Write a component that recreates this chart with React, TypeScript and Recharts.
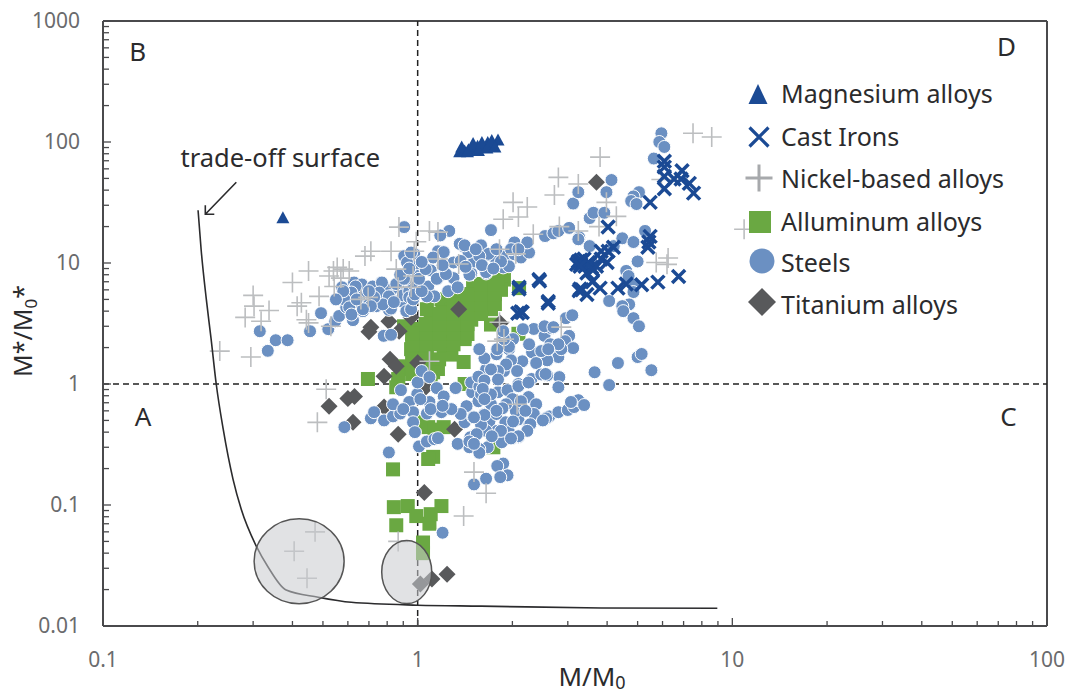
import React from "react";
import {
  ScatterChart,
  Scatter,
  XAxis,
  YAxis,
  ReferenceLine,
  Legend,
} from "recharts";

const FONT = "'Noto Sans', sans-serif";

const xTicks = [
  0.1, 0.2, 0.3, 0.4, 0.5, 0.6, 0.7, 0.8, 0.9, 1, 2, 3, 4, 5, 6, 7, 8, 9, 10, 20, 30, 40, 50, 60, 70, 80, 90, 100,
];
const yTicks = [
  0.01, 0.02, 0.03, 0.04, 0.05, 0.06, 0.07, 0.08, 0.09, 0.1, 0.2, 0.3, 0.4, 0.5, 0.6, 0.7, 0.8, 0.9, 1, 2, 3, 4, 5, 6,
  7, 8, 9, 10, 20, 30, 40, 50, 60, 70, 80, 90, 100, 200, 300, 400, 500, 600, 700, 800, 900, 1000,
];
const decades = [0.01, 0.1, 1, 10, 100, 1000];

type Row = number[];

const magnesium: Row[] = [
  [0.373, 23.9], [1.36, 84], [1.41, 85], [1.45, 87], [1.5, 91], [1.55, 93], [1.6, 95], [1.67, 100], [1.71, 97], [1.8, 105],
  [1.38, 92], [1.44, 84], [1.5, 98], [1.56, 86], [1.6, 100], [1.66, 90], [1.72, 104], [1.76, 92],
];

const castIrons: Row[] = [
  [6.08, 69.4], [6.08, 62], [6.08, 52], [6.08, 41], [6.53, 49.5], [6.92, 57.8], [6.87, 49.5], [7.3, 45.5], [7.53, 37.8],
  [5.48, 31.7], [4.03, 19.8], [5.48, 16.6], [5.43, 14.9], [5.39, 13.5], [3.83, 12.5], [4.03, 12.5], [4.19, 13.5],
  [4, 10.1], [3.83, 10.8], [3.24, 10.3], [3.3, 9.75], [3.49, 10.1], [3.57, 9.2], [3.7, 9.4], [3.45, 8.25], [3.59, 7],
  [3.8, 6.2], [3.28, 6.1], [3.45, 5.5], [3.33, 6], [4.33, 6.2], [4.6, 6.7], [5.15, 6.6], [5.8, 6.95], [6.75, 7.75],
  [2.43, 7.3], [2.1, 6.3], [2.6, 4.65], [2.13, 3.95], [2.15, 3.9], [2.1, 6.1], [3.2, 9.75], [3.38, 10.8], [3.3, 10.6],
  [3.4, 9.4], [3.52, 9.8], [3.28, 9.4], [3.6, 8.8], [3.26, 5.9], [2.08, 3.85], [2.44, 7.1], [2.6, 4.8],
];

const nickel: Row[] = [
  [0.872, 19.8], [1.09, 18.4], [1.16, 18], [0.99, 15], [0.68, 11.4], [0.71, 12.5], [0.823, 12.5], [0.975, 12.5],
  [0.45, 8.6], [0.4, 6.9], [0.54, 8.6], [0.555, 9.2], [0.58, 8.9], [0.606, 8.6], [0.523, 7.8], [0.57, 7.5], [0.543, 6.4],
  [0.486, 5.3], [0.427, 4.7], [0.414, 4.4], [0.3, 5.4], [0.302, 4.4], [0.337, 4.05], [0.318, 3.3], [0.283, 3.55],
  [0.443, 3.4], [0.45, 3.2], [0.295, 1.67], [0.235, 1.87], [0.53, 3], [0.855, 8.9], [0.967, 7.8], [0.867, 6.3],
  [0.953, 6.3], [0.66, 5], [0.696, 5.2], [1.09, 1.54], [1.82, 3.24], [1.79, 2.26], [1.16, 10.8], [1.35, 9.8],
  [2.01, 31.7], [1.87, 23], [2.09, 24], [1.82, 13], [2.05, 11.9], [0.512, 0.905], [0.48, 0.482], [2.07, 0.68],
  [1.51, 0.187], [1.65, 0.125], [1.4, 0.081], [0.472, 0.06], [0.405, 0.0415], [0.445, 0.0248], [0.867, 0.05],
  [7.5, 118], [8.6, 110], [3.8, 75], [2.8, 51], [3.24, 45], [2.72, 36.5], [2.23, 29], [3.98, 31.7], [4.28, 24.3],
  [3.77, 20], [2.82, 20], [3.24, 18.4], [2.33, 17.3], [5.73, 10.1], [6.25, 11], [6.2, 9.75], [2.86, 2.95], [5.95, 49],
  [10.9, 19], [1.88, 2.35],
];

const aluminum: Row[] = [
  [0.695, 1.1], [0.867, 1.1], [0.92, 1.33], [0.975, 1.6], [1.03, 1.94], [1.1, 2.2], [1.21, 2.35], [1.41, 2.35],
  [1.4, 1.52], [1.1, 3.65], [1.16, 3.55], [1.25, 3.4], [1.34, 3], [1.41, 2.5], [1.71, 4.15], [1.59, 5.3], [1.75, 6.4],
  [1.88, 7.3], [1.71, 3.1], [2.09, 2.6], [1.56, 4.75], [1.41, 4.4], [1.25, 2.7], [1.08, 2.5], [1, 2.85], [0.905, 3],
  [0.953, 1.94], [0.885, 1.4], [1.21, 1.83], [1.13, 1.52], [1.16, 1.33], [1.03, 1.16], [0.867, 0.96], [0.855, 0.94],
  [1.1, 1.03], [1.41, 1], [1.19, 5], [1.28, 4.15], [1.48, 5.5], [1.59, 6.7], [1.78, 8], [1.84, 6], [1.48, 3.4],
  [1.28, 2.15], [1.1, 3], [1.03, 2.6], [1.19, 2.85], [1.59, 4.15], [0.953, 1.33], [1.07, 1.76], [1.32, 5], [1.07, 4.15],
  [1.08, 0.44], [1.21, 0.44], [1.03, 0.483], [1.13, 0.42], [1.12, 0.25], [1.08, 0.24], [0.835, 0.197], [0.84, 0.096],
  [0.93, 0.098], [0.99, 0.081], [1.09, 0.07], [1.1, 0.084], [1.19, 0.098], [0.855, 0.068], [1.04, 0.049], [1.04, 0.04],
  [1.74, 0.3], [2.1, 6.2], [1.7, 7.2], [1.65, 5.2], [1.5, 6.2], [1.38, 3.7], [1.55, 3.9], [1.2, 3.9], [1.35, 2.5],
  [1.28, 1.75], [1.17, 1.6], [1.02, 1.38], [0.97, 2.3], [1.12, 1.25], [1.8, 7.4],
  // solid staircase right of the vertical line
  [1.06, 2.13], [1.17, 2.13], [1.3, 2.13], [1.06, 2.59], [1.17, 2.59], [1.3, 2.59], [1.44, 2.59], [1.06, 3.13],
  [1.17, 3.13], [1.3, 3.13], [1.44, 3.13], [1.17, 3.79], [1.3, 3.79], [1.44, 3.79], [1.59, 3.79], [1.3, 4.58],
  [1.44, 4.58], [1.59, 4.58], [1.76, 4.58], [1.44, 5.54], [1.59, 5.54], [1.76, 5.54], [1.59, 6.7], [1.76, 6.7],
  [0.96, 2.13], [0.96, 2.59], [0.96, 1.6], [0.96, 1.21], [1.06, 1.6], [1.06, 1.3],
];

const steels: Row[] = [
  [0.334, 1.88], [0.354, 2.3], [0.386, 2.3], [0.315, 2.73], [0.455, 2.73], [0.493, 3.85], [0.52, 2.84], [0.547, 3.3],
  [0.563, 3.65], [0.623, 3.37], [0.575, 6.3], [0.628, 6.9], [0.665, 6.4], [0.623, 5.75], [0.606, 5], [0.593, 4.3],
  [0.637, 4.15], [0.686, 4.55], [0.652, 5.3], [0.72, 5.7], [0.72, 4.55], [0.754, 5.2], [0.796, 6.1], [0.796, 4.75],
  [0.835, 5.4], [0.765, 6.9], [0.81, 4.1], [0.74, 4.4], [0.885, 4.85], [0.92, 4], [0.953, 4.15], [0.873, 6.1],
  [0.897, 5.4], [0.94, 5.85], [0.967, 6.7], [0.92, 7.4], [0.967, 8.6], [0.933, 10.9], [0.975, 11.9], [0.906, 19.8],
  [1.26, 18.4], [1.18, 16.9], [1.71, 18.7], [2.03, 14.8], [1.41, 13.5], [1.45, 11.9], [1.16, 12.5], [1.21, 12.3],
  [1.59, 13.5], [1.63, 11.8], [1.69, 11.6], [1.91, 11.4], [2.03, 11.8], [0.99, 9.4], [1.1, 8.7], [1.3, 10.1],
  [1.16, 7.5], [1.08, 6.4], [1.3, 7.5], [1.48, 8.2], [1.65, 8.2], [1.87, 9.2], [1.95, 9.4], [1.25, 5.85], [1.34, 6.3],
  [1.13, 5.3], [1.07, 5.3], [0.78, 2.5], [0.823, 2.55], [0.67, 4], [1.36, 14.4], [1.51, 10.3], [1.78, 10.3],
  [2.13, 11.1], [2.26, 12.2], [2.23, 14.8], [1.98, 13], [2.54, 16.7], [2.7, 17.6], [2.8, 18.4], [3.03, 19.5],
  [3.26, 16.3], [3.24, 15.7], [3.12, 31], [3.24, 38.5], [3.98, 38.5], [4.13, 48.5], [3.52, 23.5], [3.62, 26], [3.92, 26],
  [3.52, 13.8], [4.2, 13.8], [4.47, 16], [4.85, 14.9], [5.28, 18.4], [5.05, 38.5], [4.85, 35.5], [4.77, 32.5],
  [4.96, 30.7], [5.95, 118], [5.86, 100], [6.08, 91], [5.63, 73], [5, 10.3], [4.6, 8.6], [4.68, 7.8], [4.9, 6.6],
  [4.85, 5.75], [4.06, 4.85], [4.7, 4.55], [4.47, 4.4], [4.5, 4], [4.85, 3.5], [5.05, 3], [2.96, 3.5], [3.1, 3.7],
  [2.34, 2.85], [2.53, 2.5], [2.66, 2.9], [2.53, 3], [3.03, 2.5], [2.94, 2.26], [2.72, 1.98], [2.64, 2.13], [3.12, 1.98],
  [2.31, 1.83], [1.95, 1.94], [2.8, 1.67], [2.58, 1.57], [2.38, 1.49], [2.15, 1.54], [1.98, 1.57], [2.82, 1.14],
  [2.58, 1.18], [2.07, 1.28], [1.88, 1.28], [2.3, 1.1], [3.65, 1.25], [4.33, 1.49], [5, 1.67], [5.15, 1.77], [5.53, 1.3],
  [4.06, 0.98], [2.8, 0.94], [2.09, 1], [1.15, 0.925], [1.21, 0.79], [0.997, 0.825], [1, 1.03], [1.32, 0.925],
  [1.49, 0.855], [1.56, 0.72], [1.43, 0.656], [1.63, 0.565], [1.41, 0.483], [1.5, 0.53], [1.69, 0.49], [1.8, 0.855],
  [1.93, 0.89], [2.09, 0.96], [1.84, 0.62], [1.9, 0.483], [2.09, 0.51], [2.25, 0.78], [2.38, 0.68], [2.34, 0.565],
  [2.26, 0.456], [1.95, 0.4], [2, 0.357], [2.09, 0.363], [1.85, 0.33], [1.79, 0.41], [1.67, 0.3], [1.53, 0.385],
  [1.47, 0.363], [1.5, 0.32], [1.46, 0.3], [1.57, 0.29], [1.34, 0.32], [2.62, 0.54], [2.8, 0.585], [2.56, 0.52],
  [3, 0.61], [3.14, 0.645], [3.24, 0.735], [3.38, 0.67], [3.07, 0.71], [1.48, 1.03], [1.65, 1.32], [1.78, 1.76],
  [2.01, 2.35], [2.26, 2.13], [2.47, 1.87], [2.16, 2.84], [2.86, 1.94], [2.47, 1.2], [1.57, 0.95], [2, 0.75], [1.71, 0.68],
  [2.05, 0.6], [1.59, 0.825], [1.78, 0.565], [1.91, 0.68], [2.13, 0.72], [1.65, 0.41], [1.84, 0.41], [1.72, 0.37],
  [2.2, 0.6], [1.59, 0.46], [0.585, 0.44], [0.71, 0.52], [0.727, 0.585], [0.782, 0.5], [0.835, 0.54], [0.88, 0.57],
  [0.835, 0.68], [0.94, 0.71], [0.967, 0.585], [0.967, 0.483], [0.98, 0.4], [1.07, 0.57], [1.19, 0.585], [1.09, 0.71],
  [1.01, 0.305], [1.07, 0.335], [1.13, 0.35], [1.16, 0.357], [0.81, 0.272], [1.87, 0.22], [1.79, 0.21], [1.93, 0.176],
  [1.83, 0.17], [1.65, 0.165], [1.51, 0.148], [1.2, 0.059], [1.03, 1.28], [1.09, 1.14], [0.885, 0.89],
  // second pass over the dense clusters
  [2.7, 2.95], [2.8, 2.13], [2.6, 1.94], [2.55, 1.21], [1.91, 1.45], [1.8, 1.28], [1.71, 1.32], [1.56, 1.15],
  [1.63, 1.07], [1.8, 1.09], [1.95, 2.03], [1.79, 1.94], [1.63, 1.63], [1.57, 1.94], [1.88, 2.35], [1.87, 2.73],
  [2.25, 1.03], [1.71, 0.82], [1.61, 0.91], [1.63, 0.75], [1.86, 0.63], [1.78, 0.6], [1.63, 0.555], [1.51, 0.53],
  [1.37, 0.565], [2.01, 0.49], [2.28, 0.465], [2.23, 0.41], [2.09, 0.37], [1.98, 0.355], [1.57, 0.27], [1.54, 0.385],
  [1.46, 0.335], [1.51, 0.32], [2.5, 0.5], [0.665, 6.65], [0.635, 6.4], [0.616, 5.7], [0.585, 5], [0.606, 4.3],
  [0.616, 3.75], [0.72, 6.4], [0.77, 6.9], [0.755, 5.7], [0.81, 5.3], [0.823, 4.2], [0.775, 4.55], [0.727, 5.2],
  [0.71, 4.4], [0.67, 4.15], [0.94, 5.2], [0.906, 11.4], [0.925, 10.1], [0.953, 12.2], [1, 7.8], [1.15, 7.4], [1.12, 11.1],
  [1.46, 8], [1.65, 8.4], [1.45, 12.3], [1.41, 14], [1.59, 14], [1.68, 11.9], [1.57, 11.4], [2.09, 13], [0.855, 6.7],
  [0.905, 7.4], [0.84, 4.75], [0.7, 5.85], [0.64, 5], [0.58, 5.85], [0.55, 5], [0.967, 5], [0.98, 5.5], [1.03, 5.85],
  [1.01, 7.4], [1.06, 8.9], [1.23, 8.1], [1.37, 10.4], [1.53, 13], [1.78, 13], [1.84, 10.3], [1.28, 0.62], [1.1, 0.62],
  [0.9, 0.62], [1.02, 0.75], [1.2, 0.66], [0.88, 8], [0.94, 9], [1.03, 10.2], [1.2, 9.6], [1.42, 9.3], [1.6, 9.6], [1.74, 9],
];

const titanium: Row[] = [
  [0.71, 2.95], [0.7, 2.7], [0.81, 3.3], [0.873, 2.73], [0.953, 3.57], [1.35, 4.15], [1.83, 3.18], [0.817, 1.6],
  [0.855, 1.4], [0.782, 1.16], [1, 1.5], [0.523, 0.656], [0.6, 0.76], [0.63, 0.79], [0.623, 0.483], [0.867, 0.385],
  [0.782, 0.644], [1.31, 0.423], [1.05, 0.127], [1.02, 0.0222], [1.11, 0.0245], [1.24, 0.0268], [1.06, 0.94], [3.7, 46.5],
];

const tradeOff: Row[] = [
  [0.2005, 27.3], [0.205, 13], [0.213, 5], [0.2206, 2.35], [0.229, 1], [0.241, 0.423], [0.259, 0.163], [0.275, 0.0923],
  [0.307, 0.0457], [0.335, 0.0306], [0.382, 0.0198], [0.483, 0.0173], [0.615, 0.0157], [1, 0.01486], [1.59, 0.0146],
  [3.83, 0.0141], [8.96, 0.014],
];

const highlights: Row[] = [
  [0.42, 0.0343],
  [0.923, 0.0279],
];

const regions = [
  { x: 0.134, y: 0.53, name: "A" },
  { x: 0.129, y: 552, name: "B" },
  { x: 75.4, y: 0.53, name: "C" },
  { x: 74.3, y: 607, name: "D" },
];

const legendItems = ["Magnesium alloys", "Cast Irons", "Nickel-based alloys", "Alluminum alloys", "Steels", "Titanium alloys"];

const toPoints = (rows: Row[]) => rows.map(([x, y]) => ({ x, y }));

const triangle = (cx: number, cy: number, c: string, w = 6.5, h = 6) => (
  <polygon points={`${cx},${cy - h} ${cx + w},${cy + h} ${cx - w},${cy + h}`} fill={c} />
);
const xMark = (cx: number, cy: number, c: string, r = 6.5, w = 3.5) => (
  <path d={`M${cx - r} ${cy - r}L${cx + r} ${cy + r}M${cx - r} ${cy + r}L${cx + r} ${cy - r}`} stroke={c} strokeWidth={w} fill="none" />
);
const plus = (cx: number, cy: number, c: string, r = 10, w = 1.6) => (
  <path d={`M${cx - r} ${cy}H${cx + r}M${cx} ${cy - r}V${cy + r}`} stroke={c} strokeWidth={w} fill="none" />
);
const square = (cx: number, cy: number, c: string, r = 7) => (
  <rect x={cx - r} y={cy - r} width={r * 2} height={r * 2} fill={c} />
);
const dot = (cx: number, cy: number, c: string, r = 6.5, stroke = "#fff") => (
  <circle cx={cx} cy={cy} r={r} fill={c} stroke={stroke} strokeWidth={1} />
);
const diamond = (cx: number, cy: number, c: string, r = 8.5) => (
  <polygon points={`${cx},${cy - r} ${cx + r},${cy} ${cx},${cy + r} ${cx - r},${cy}`} fill={c} />
);

const BLUE = "#1b4a94";
const STEEL = "#6b90c2";
const GREEN = "#6aa842";
const TITAN = "#58595b";
const NICKEL = "#bcbec0";
const AXIS = "#4a4a4c";
const LABEL = "#6a6b6d";
const INK = "#2b2b2d";

function XTick({ x, y, payload }: any) {
  const major = decades.includes(payload.value);
  return (
    <g>
      <line x1={x} x2={x} y1={y} y2={y - (major ? 8 : 5)} stroke={AXIS} strokeWidth={1.3} />
      {major && (
        <text x={x} y={y + 41} textAnchor="middle" fontSize={21} fontFamily={FONT} fill={LABEL}>
          {payload.value}
        </text>
      )}
    </g>
  );
}

function YTick({ x, y, payload }: any) {
  const major = decades.includes(payload.value);
  return (
    <g>
      <line x1={x} x2={x + (major ? 8 : 6)} y1={y} y2={y} stroke={AXIS} strokeWidth={1.3} />
      {major && (
        <text x={x - 23} y={y + 7} textAnchor="end" fontSize={21} fontFamily={FONT} fill={LABEL}>
          {payload.value}
        </text>
      )}
    </g>
  );
}

function ChartLegend() {
  const icons = [
    (c: number, m: number) => triangle(c, m, BLUE, 9.5, 10),
    (c: number, m: number) => xMark(c, m, BLUE, 9.5, 3.2),
    (c: number, m: number) => plus(c, m, "#a7a9ac", 13.5, 3),
    (c: number, m: number) => square(c, m, GREEN, 11),
    (c: number, m: number) => dot(c, m, STEEL, 12.5, "none"),
    (c: number, m: number) => diamond(c, m, TITAN, 14),
  ];
  const rowTops = [0, 43, 85, 128, 169, 211];
  const iconX = [12, 13, 13, 14, 16, 16];
  const iconDy = [1, 1, 0, 1, -1, -2];
  return (
    <div style={{ position: "relative", width: 290, height: 240 }}>
      {legendItems.map((name, i) => (
        <div key={name} style={{ position: "absolute", left: 0, top: rowTops[i], height: 30, width: 290 }}>
          <svg width={36} height={30} style={{ position: "absolute", left: 0, top: 0, overflow: "visible" }}>
            {icons[i](iconX[i], 15 + iconDy[i])}
          </svg>
          <span
            style={{
              position: "absolute",
              left: 35,
              top: 0,
              lineHeight: "30px",
              fontFamily: FONT,
              fontSize: 25,
              color: INK,
              whiteSpace: "nowrap",
            }}
          >
            {name}
          </span>
        </div>
      ))}
    </div>
  );
}

export default function App() {
  return (
    <div style={{ position: "absolute", left: 0, top: 0, width: 1068, height: 692, background: "#fff" }}>
      <ScatterChart width={1068} height={692} margin={{ top: 21, right: 21, left: 0, bottom: 0 }}>
        <XAxis
          type="number"
          dataKey="x"
          scale="log"
          domain={[0.1, 100]}
          ticks={xTicks}
          interval={0}
          height={66}
          tickSize={0}
          tickMargin={0}
          tickLine={false}
          tick={<XTick />}
          stroke={AXIS}
          strokeWidth={2}
          allowDataOverflow
          label={{
            content: () => (
              <text x={592} y={686} textAnchor="middle" fontSize={26} fontFamily={FONT} fill={INK}>
                M/M<tspan fontSize={18} dy={3}>0</tspan>
              </text>
            ),
          }}
        />
        <YAxis
          type="number"
          dataKey="y"
          scale="log"
          domain={[0.01, 1000]}
          ticks={yTicks}
          interval={0}
          width={103}
          tickSize={0}
          tickMargin={0}
          tickLine={false}
          tick={<YTick />}
          stroke={AXIS}
          strokeWidth={2}
          allowDataOverflow
          label={{
            content: () => (
              <text transform="translate(32,331) rotate(-90)" textAnchor="middle" fontSize={25} fontFamily={FONT} fill={INK}>
                M*/M<tspan fontSize={17} dy={5}>0</tspan>
                <tspan dy={-5}>*</tspan>
              </text>
            ),
          }}
        />
        <ReferenceLine x={100} stroke={AXIS} strokeWidth={2} />
        <ReferenceLine y={1000} stroke={AXIS} strokeWidth={2} />
        <Scatter isAnimationActive={false} data={toPoints(aluminum)} shape={(p: any) => square(p.cx, p.cy, GREEN)} />
        <Scatter isAnimationActive={false} data={toPoints(titanium)} shape={(p: any) => diamond(p.cx, p.cy, TITAN)} />
        <ReferenceLine x={1} stroke="#222" strokeWidth={1.5} strokeDasharray="6 4" />
        <ReferenceLine y={1} stroke="#222" strokeWidth={1.5} strokeDasharray="6 4" />
        <Scatter isAnimationActive={false} data={toPoints(steels)} shape={(p: any) => dot(p.cx, p.cy, STEEL)} />
        <Scatter isAnimationActive={false} data={toPoints(nickel)} shape={(p: any) => plus(p.cx, p.cy, NICKEL)} />
        <Scatter isAnimationActive={false} data={toPoints(castIrons)} shape={(p: any) => xMark(p.cx, p.cy, BLUE)} />
        <Scatter isAnimationActive={false} data={toPoints(magnesium)} shape={(p: any) => triangle(p.cx, p.cy, BLUE)} />
        <Scatter
          isAnimationActive={false}
          data={toPoints(tradeOff)}
          line={{ stroke: INK, strokeWidth: 1.6 }}
          lineJointType="monotoneX"
          shape={() => <g />}
        />
        <Scatter
          isAnimationActive={false}
          data={toPoints(highlights)}
          shape={(p: any) => (
            <ellipse
              cx={p.cx}
              cy={p.cy}
              rx={p.index === 0 ? 45 : 25}
              ry={p.index === 0 ? 42.5 : 31.5}
              fill="#c9cbce"
              fillOpacity={0.55}
              stroke="#555"
              strokeWidth={1.5}
            />
          )}
        />
        <Scatter
          isAnimationActive={false}
          data={regions}
          shape={(p: any) => (
            <text x={p.cx} y={p.cy + 9} textAnchor="middle" fontSize={26} fontFamily={FONT} fill={INK}>
              {p.name}
            </text>
          )}
        />
        <Scatter
          isAnimationActive={false}
          data={[{ x: 0.366, y: 72 }]}
          shape={(p: any) => (
            <g>
              <text x={p.cx} y={p.cy + 8} textAnchor="middle" fontSize={25.5} fontFamily={FONT} fill={INK}>
                trade-off surface
              </text>
              <path
                d={`M${p.cx - 44} ${p.cy + 23}L${p.cx - 75} ${p.cy + 55}M${p.cx - 75} ${p.cy + 46}L${p.cx - 75} ${p.cy + 55}L${p.cx - 66} ${p.cy + 55}`}
                stroke={INK}
                strokeWidth={1.6}
                fill="none"
              />
            </g>
          )}
        />
        <Legend
          layout="vertical"
          align="center"
          verticalAlign="middle"
          wrapperStyle={{ position: "absolute", left: 746, top: 78, width: 290, height: 240 }}
          content={() => <ChartLegend />}
        />
      </ScatterChart>
    </div>
  );
}
